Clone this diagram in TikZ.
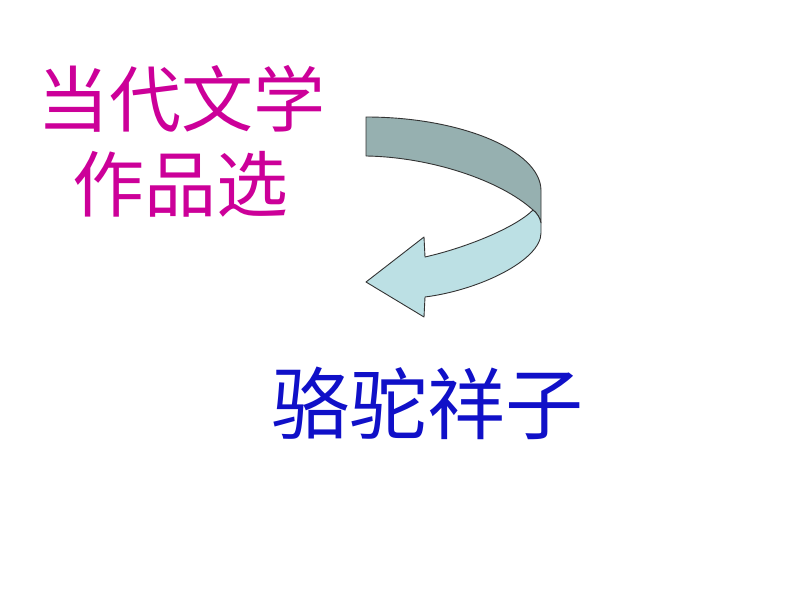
\documentclass[tikz,border=0pt]{standalone}
\usepackage{xcolor}
\usepackage{fontspec}
\newfontfamily\cjk{Noto Sans CJK SC}
\usetikzlibrary{positioning}
\definecolor{titlepink}{RGB}{204,0,153}
\definecolor{bookblue}{RGB}{16,16,200}
\definecolor{bandback}{RGB}{150,176,176}
\definecolor{bandfront}{RGB}{188,224,228}
\tikzstyle{title} = [inner sep=0pt, text=titlepink, font=\cjk\fontsize{72}{80}\selectfont]
\tikzstyle{book} = [inner sep=0pt, text=bookblue, font=\cjk\fontsize{78}{86}\selectfont]
\tikzstyle{band} = [draw=black!80, line width=0.9pt, line join=round]

\begin{document}
\begin{tikzpicture}[x=1pt, y=-1pt]
      \useasboundingbox (0,0) rectangle (794,596);
      % Titles
      \node [title] (anthology) at (181,99) {当代文学};
      \node [title] (selection) at (180,184) {作品选};
      \node [book] (camel) at (427,403) {骆驼祥子};
      % Curved arrow, back of the band
      \coordinate (tail-out) at (366,117);
      \coordinate (tail-in) at (366,156);
      \coordinate (turn) at (533,210);
      \path [band, fill=bandback] (tail-out) .. controls (460,117) and (540,150) .. (541,190)
            -- (541,223) .. controls (540,218) and (537,213) .. (turn)
            .. controls (500,180) and (430,157) .. (tail-in) -- cycle;
      % Curved arrow, front with the head
      \path [band, fill=bandfront] (turn) .. controls (537,213) and (540,218) .. (541,223)
            -- (541,233) .. controls (541,260) and (480,290) .. (425,297)
            -- (424,317) -- (366,282) -- (424,237) -- (425,257)
            .. controls (465,248) and (515,228) .. (turn) -- cycle;
  \end{tikzpicture}
\end{document}
